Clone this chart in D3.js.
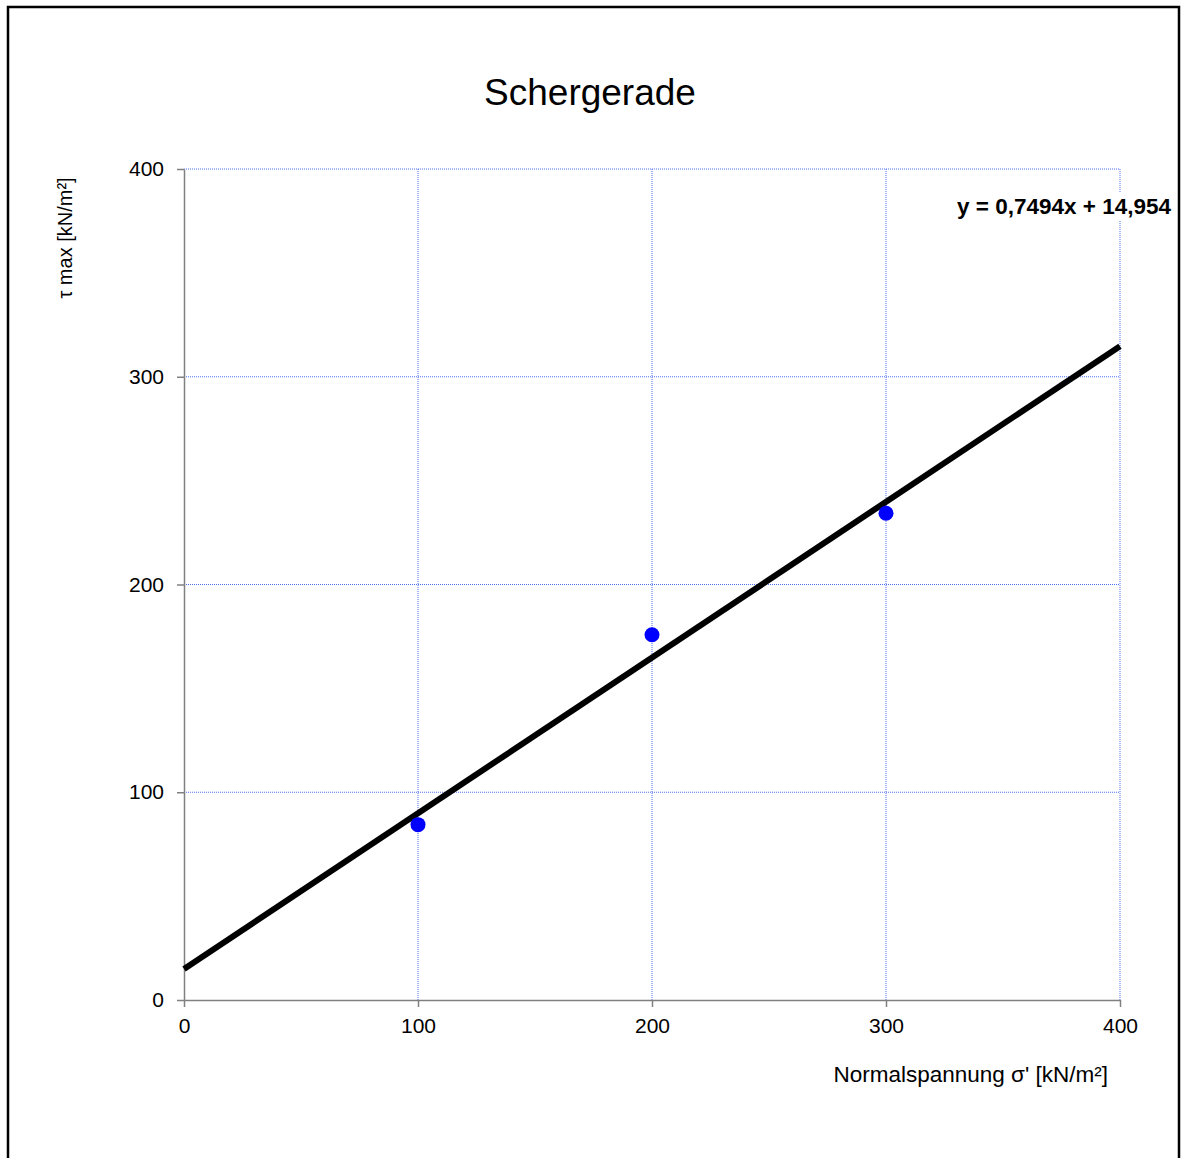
<!DOCTYPE html>
<html>
<head>
<meta charset="utf-8">
<script src="https://cdn.jsdelivr.net/npm/d3@7"></script>
<style>
  body { margin: 0; background: #fff; }
  text { font-family: "Liberation Sans", Arial, sans-serif; }
</style>
</head>
<body>
<script>
var sigma = [100, 200, 300];
var tau = [84.4, 175.8, 234.3];
var xTicks = [0, 100, 200, 300, 400];
var yTicks = [0, 100, 200, 300, 400];
var title = 'Schergerade';
var xTitle = 'Normalspannung \u03c3\' [kN/m\u00b2]';
var yTitle = '\u03c4 max [kN/m\u00b2]';
var eqLabel = 'y = 0,7494x + 14,954';

var width = 1183, height = 1158;
var plotLeft = 184, plotRight = 1120, plotTop = 169, plotBottom = 1000;

var svg = d3.select('body').append('svg').attr('width', width).attr('height', height);

// outer frame
svg.append('rect').attr('x', 8).attr('y', 7).attr('width', 1171).attr('height', 1170)
   .attr('fill', 'none').attr('stroke', '#000').attr('stroke-width', 2.5);

var x = d3.scaleLinear().domain([0, 400]).range([plotLeft, plotRight]);
var y = d3.scaleLinear().domain([0, 400]).range([plotBottom, plotTop]);

// grid
var gridColor = '#4f70f2';
svg.selectAll('.gx').data(xTicks.slice(1)).enter().append('line')
   .attr('x1', function (d) { return x(d); }).attr('x2', function (d) { return x(d); })
   .attr('y1', y(0)).attr('y2', y(400))
   .attr('stroke', gridColor).attr('stroke-width', 1).attr('stroke-dasharray', '1,1');
svg.selectAll('.gy').data(yTicks.slice(1)).enter().append('line')
   .attr('x1', x(0)).attr('x2', x(400))
   .attr('y1', function (d) { return y(d); }).attr('y2', function (d) { return y(d); })
   .attr('stroke', gridColor).attr('stroke-width', 1).attr('stroke-dasharray', '1,1');

// axes
var xAxis = svg.append('g').attr('transform', 'translate(0,' + plotBottom + ')')
   .call(d3.axisBottom(x).tickValues(xTicks).tickSize(7).tickPadding(11).tickSizeOuter(0));
var yAxis = svg.append('g').attr('transform', 'translate(' + plotLeft + ',0)')
   .call(d3.axisLeft(y).tickValues(yTicks).tickSize(7).tickPadding(13).tickSizeOuter(0));
[xAxis, yAxis].forEach(function (a) {
  a.select('.domain').attr('stroke', '#808080').attr('stroke-width', 1.5);
  a.selectAll('.tick line').attr('stroke', '#808080').attr('stroke-width', 1.5);
  a.selectAll('.tick text').attr('font-size', 21).attr('fill', '#000')
   .style('font-family', '"Liberation Sans", Arial, sans-serif');
});

// least squares trend line
var mx = d3.mean(sigma), my = d3.mean(tau);
var slope = d3.sum(sigma, function (s, i) { return (s - mx) * (tau[i] - my); }) /
            d3.sum(sigma, function (s) { return (s - mx) * (s - mx); });
var icpt = my - slope * mx;
svg.append('line')
   .attr('x1', x(0)).attr('y1', y(icpt))
   .attr('x2', x(400)).attr('y2', y(icpt + slope * 400))
   .attr('stroke', '#000').attr('stroke-width', 6);

// points
svg.selectAll('circle').data(sigma).enter().append('circle')
   .attr('cx', function (d) { return x(d); })
   .attr('cy', function (d, i) { return y(tau[i]); })
   .attr('r', 7.5).attr('fill', '#0000ff');

// equation label on white box
var eqBox = svg.append('rect').attr('fill', '#fff');
var eq = svg.append('text').attr('x', 1171).attr('y', 214).attr('text-anchor', 'end')
   .attr('font-size', 22.5).attr('font-weight', 'bold').text(eqLabel);
var bb = eq.node().getBBox();
eqBox.attr('x', bb.x - 2).attr('y', bb.y - 2)
   .attr('width', bb.width + 4).attr('height', bb.height + 4);

// titles
svg.append('text').attr('x', 590).attr('y', 105).attr('text-anchor', 'middle')
   .attr('font-size', 37).text(title);
svg.append('text').attr('x', 1108).attr('y', 1082).attr('text-anchor', 'end')
   .attr('font-size', 22.5).text(xTitle);
svg.append('text').attr('transform', 'translate(72,238) rotate(-90)')
   .attr('text-anchor', 'middle').attr('font-size', 20).text(yTitle);
</script>
</body>
</html>
